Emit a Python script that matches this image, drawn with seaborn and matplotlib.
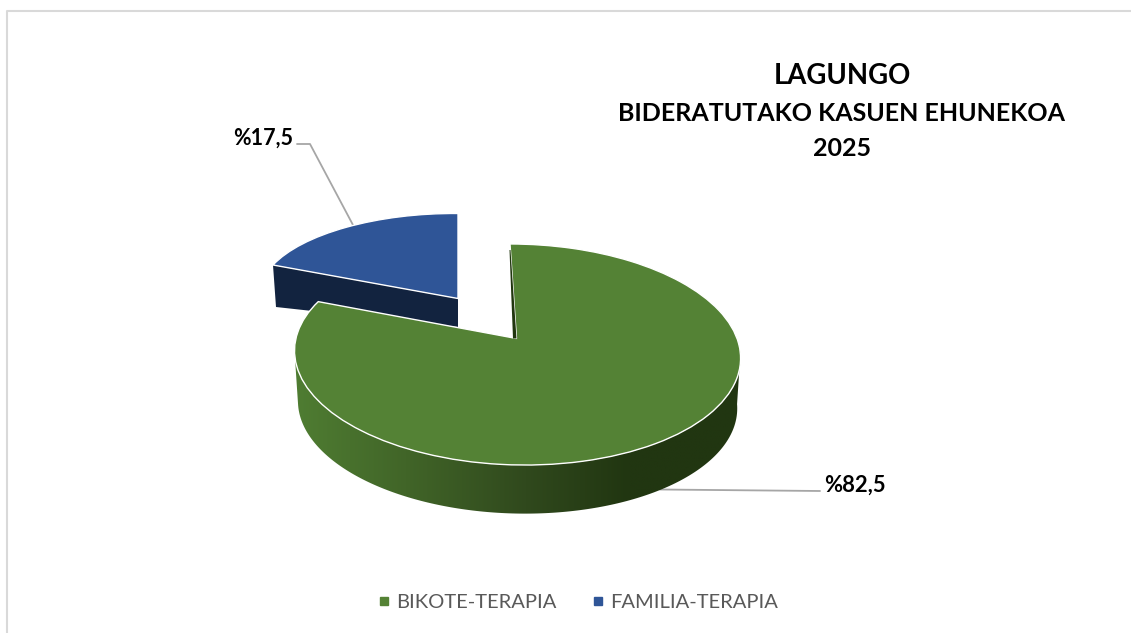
import numpy as np
import matplotlib
matplotlib.use("Agg")
import matplotlib.pyplot as plt
import seaborn as sns
from matplotlib.colors import LinearSegmentedColormap
from matplotlib.lines import Line2D
from matplotlib.patches import Polygon
from matplotlib.transforms import Transform

categories = ["BIKOTE-TERAPIA", "FAMILIA-TERAPIA"]
values = [82.5, 17.5]
title_lines = ["LAGUNGO", "BIDERATUTAKO KASUEN EHUNEKOA", "2025"]
face_colors = ["#548235", "#2F5597"]

sns.set_theme(style="white")
plt.rcParams["font.family"] = ["Lato", "DejaVu Sans"]


def homography(src, dst):
    rows, rhs = [], []
    for (x, y), (u, v) in zip(src, dst):
        rows.append([x, y, 1, 0, 0, 0, -u * x, -u * y]); rhs.append(u)
        rows.append([0, 0, 0, x, y, 1, -v * x, -v * y]); rhs.append(v)
    return np.append(np.linalg.solve(np.array(rows, float), np.array(rhs, float)), 1).reshape(3, 3)


def tilt(cx, cy, b, s, a, k):
    return np.array([[b, s + cx * k, cx], [0, -a + cy * k, cy], [0, k, 1.0]])


class Perspective(Transform):
    """Tilts the flat pie into the reference's 3-D view (output in pixel-like data units)."""
    input_dims = output_dims = 2
    is_separable = False
    has_inverse = False

    def __init__(self, matrix, warp=0.0):
        super().__init__()
        self.matrix = matrix
        self.warp = warp

    def transform_non_affine(self, values):
        values = np.asarray(values, float)
        if self.warp:
            # slide points along the rim: the 3-D view widens the slice's apparent angle
            r = np.hypot(values[:, 0], values[:, 1])
            alpha = np.degrees(np.arctan2(values[:, 0], values[:, 1]))
            left = alpha < -60
            alpha = alpha.copy()
            alpha[left] -= self.warp * np.clip((180 + alpha[left]) / 117, 0, 1)
            values = np.c_[r * np.sin(np.radians(alpha)), r * np.cos(np.radians(alpha))]
        h = np.c_[values, np.ones(len(values))] @ self.matrix.T
        return h[:, :2] / h[:, 2:]


corner = (-0.891, 0.454)
H_green = tilt(516.5, 338.5, 220.5, -7.44, 108.2, 0.1448)
H_blue = homography([(0, 0), (0, 1), corner, (-0.5, 0.866)],
                    [(458, 298.5), (458, 213.5), (273, 265), (351, 226)])

fig = plt.figure(figsize=(11.31, 6.33), dpi=100)
ax = fig.add_axes([0, 0, 1, 1])

palette = sns.color_palette(face_colors)
wedges, _ = ax.pie(values, colors=palette, startangle=90, counterclock=False,
                   wedgeprops={"edgecolor": "white", "linewidth": 1.0})
ax.set_aspect("auto")

wedges[0].set_transform(Perspective(H_green, warp=6.0) + ax.transData)
wedges[1].set_transform(Perspective(H_blue) + ax.transData)
wedges[0].set_zorder(6)
wedges[1].set_zorder(3)

# blue inner wall
ax.add_patch(Polygon([(273, 265), (458, 298.5), (458, 327), (276, 307)],
                     closed=True, fc="#12233F", ec="none", zorder=2))

# green outer wall with horizontal gradient
theta = np.radians(np.linspace(188, 352, 200))
arc = np.c_[np.cos(theta), np.sin(theta)]
P = Perspective(H_green)
upper = P.transform(arc)
lower = upper.copy()
lower[:, 0] = 517 + (lower[:, 0] - 517) * 0.985
lower[:, 1] = lower[:, 1] * 0.985 + 338.5 * 0.015 + 50.5
wall = Polygon(np.r_[upper, lower[::-1]], closed=True, fc="none", ec="none",
               transform=ax.transData)
ax.add_patch(wall)
cmap = LinearSegmentedColormap.from_list(
    "wall", [(0.0, "#4F7D32"), (0.25, "#416528"), (0.52, "#30491D"),
             (0.75, "#213611"), (1.0, "#213611")])
im = ax.imshow(np.linspace(0, 1, 256)[None, :], cmap=cmap, aspect="auto",
               extent=(294, 740, 520, 340), zorder=5, interpolation="bilinear")
im.set_clip_path(wall)

# dark sliver of green inner wall
ax.add_patch(Polygon([(509.5, 250), (513, 338.5), (516.5, 338.5), (510.5, 250)],
                     closed=True, fc="#21360F", ec="none", zorder=7))

ax.set_xlim(0, 1131)
ax.set_ylim(633, 0)
ax.set_aspect("auto")
ax.axis("off")

# chart frame (open on the right and bottom)
ax.add_line(Line2D([1131, 7, 7], [10.5, 10.5, 633], color="#D9D9D9", lw=1.5, zorder=1))

# title
ax.text(842, 76, title_lines[0], ha="center", va="center", fontsize=19.8, fontweight="bold", color="black")
ax.text(842, 113.5, title_lines[1], ha="center", va="center", fontsize=18, fontweight="bold", color="black")
ax.text(842, 148.5, title_lines[2], ha="center", va="center", fontsize=18, fontweight="bold", color="black")

# data labels with leader lines
fmt = lambda v: "%" + f"{v:.1f}".replace(".", ",")
ax.text(293, 138, fmt(values[1]), ha="right", va="center", fontsize=15.5, fontweight="bold", color="black")
ax.text(824, 485, fmt(values[0]), ha="left", va="center", fontsize=15.8, fontweight="bold", color="black")
ax.add_line(Line2D([297, 310, 353], [144, 144, 225], color="#A6A6A6", lw=1.3, zorder=2))
ax.add_line(Line2D([660, 820], [489.5, 491], color="#A6A6A6", lw=1.3, zorder=4))

# legend
handles = [Line2D([], [], linestyle="none", marker="s", markersize=5.5, color=c) for c in palette]
ax.legend(handles, categories, loc="center", bbox_to_anchor=(576 / 1131, 1 - 602.5 / 633),
          ncol=2, frameon=False, fontsize=14.5, labelcolor="#595959",
          handletextpad=0.1, columnspacing=1.6, handlelength=1.0)

fig.savefig("out.png", dpi=100, facecolor="white")
